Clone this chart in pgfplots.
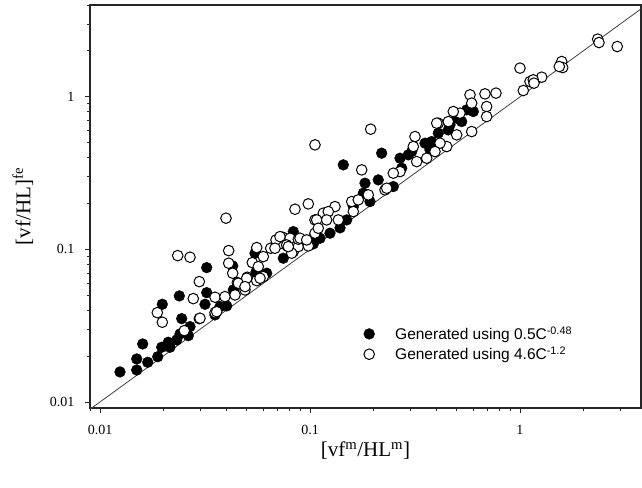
\documentclass[border=0pt]{standalone}
\usepackage{fontspec}
\setmainfont{Liberation Serif}
\newfontfamily\arial{Liberation Sans}
\usepackage{pgfplots}
\pgfplotsset{compat=1.18}
\usepackage{pgfplotstable}

% generated using 0.5C^-0.48
\pgfplotstableread{
x y
0.01245 0.01574
0.01496 0.0162
0.01496 0.01914
0.01597 0.0240
0.01687 0.0182
0.01883 0.0198
0.0198 0.0437
0.01967 0.02284
0.02154 0.02284
0.02114 0.02464
0.02319 0.02551
0.02404 0.02792
0.02386 0.04956
0.02449 0.03518
0.02634 0.02721
0.02683 0.03118
0.03222 0.07598
0.03222 0.05208
0.03162 0.0437
0.03529 0.0372
0.03728 0.04217
0.04012 0.04262
0.04284 0.07795
0.05533 0.0712
0.0622 0.06983
0.07463 0.08755
0.1037 0.1086
0.04313 0.05426
0.05473 0.09443
0.08327 0.1308
0.1441 0.3583
0.2194 0.4273
0.1828 0.2718
0.2114 0.2856
0.1794 0.2336
0.1116 0.1184
0.1245 0.1277
0.1496 0.1561
0.1 0.1154
0.2683 0.3963
0.3529 0.4971
0.4083 0.5781
0.4642 0.6551
0.4995 0.7248
0.1931 0.2058
0.2493 0.2581
0.3728 0.4492
0.3051 0.4378
0.2734 0.3408
0.5575 0.8218
0.5993 0.8009
0.5277 0.6887
0.4556 0.6075
0.3797 0.5092
0.2938 0.4167
0.139 0.1384
0.1608 0.1908
}\blackpts

% generated using 4.6C^-1.2
\pgfplotstableread{
x y
0.01875 0.03851
0.0198 0.03332
0.02344 0.09107
0.02683 0.08889
0.0252 0.02935
0.02781 0.04758
0.02971 0.0615
0.02971 0.03518
0.03529 0.0486
0.03529 0.03851
0.041 0.0982
0.041 0.0812
0.04284 0.06983
0.04506 0.06057
0.04394 0.05031
0.04903 0.05426
0.05027 0.06572
0.05311 0.08194
0.05575 0.1028
0.05673 0.07713
0.05575 0.06243
0.05993 0.06631
0.05993 0.08972
0.065 0.1018
0.07143 0.1086
0.07798 0.1054
0.08327 0.09674
0.08796 0.1043
0.09816 0.1054
0.03981 0.1602
0.08483 0.1834
0.09816 0.1988
0.1056 0.4845
0.1056 0.1561
0.07413 0.1202
0.08035 0.1184
0.08796 0.1166
0.1056 0.1277
0.06887 0.1154
0.03936 0.04904
0.04556 0.06002
0.04995 0.06473
0.05781 0.06473
0.07197 0.1213
0.07746 0.107
0.08185 0.09443
0.03595 0.03909
0.02993 0.0354
0.04903 0.05703
0.1763 0.3321
0.158 0.2058
0.1698 0.2112
0.1895 0.2278
0.1608 0.177
0.2276 0.2456
0.1315 0.1908
0.1157 0.1728
0.1222 0.177
0.1076 0.1561
0.12 0.1561
0.1364 0.1561
0.1095 0.1377
0.08964 0.1184
0.09645 0.1154
0.07885 0.1043
0.06813 0.1018
0.1945 0.614
0.3162 0.5492
0.3105 0.4723
0.4083 0.6723
0.4556 0.6887
0.5179 0.7818
0.4995 0.5634
0.4477 0.4723
0.4159 0.4971
0.3937 0.4378
0.3595 0.3963
0.3222 0.3764
0.2683 0.3237
0.2493 0.316
0.2319 0.2519
1.0 1.543
1.116 1.26
1.269 1.346
1.157 1.293
1.037 1.1
0.5781 1.031
0.6813 1.046
0.7686 1.058
0.6939 0.8638
0.6939 0.7427
0.5888 0.9094
0.5888 0.5922
0.4813 0.8009
0.4012 0.6723
2.344 2.39
2.378 2.27
2.905 2.137
1.58 1.704
1.597 1.556
1.539 1.58
1.166 1.23
}\openpts

\begin{document}
\begin{tikzpicture}
\useasboundingbox (-90pt,-79pt) rectangle (552pt,408pt);
\begin{axis}[
  at={(0pt,0pt)}, anchor=south west,
  scale only axis, width=551pt, height=403pt,
  xmode=log, ymode=log,
  xmin=0.00896, xmax=3.77, ymin=0.00913, ymax=4.0,
  log ticks with fixed point,
  /pgf/number format/assume math mode=true,
  tick pos=left, tick align=outside,
  major tick length=5pt, minor tick length=3pt,
  axis line style={line width=1.2pt, black!85},
  tick style={line width=0.9pt, black!85},
  tick label style={font=\fontsize{14}{16}\selectfont},
  xticklabel style={yshift=-9pt},
  yticklabel style={xshift=-7pt},
  xlabel={[vf\textsuperscript{m}/HL\textsuperscript{m}]},
  ylabel={[vf/HL]\textsuperscript{fe}},
  label style={font=\fontsize{21}{24}\selectfont},
  xlabel style={at={(axis description cs:0.5,-0.106)}, anchor=center},
  ylabel style={at={(axis description cs:-0.122,0.5)}, anchor=center},
  legend style={draw=none, fill=none, at={(axis description cs:0.49,0.212)},
    anchor=north west, font=\arial\fontsize{15.5}{18}\selectfont, row sep=2pt},
  legend cell align=left,
  leg/.style={legend image code/.code={\draw[##1] plot coordinates {(0pt,0pt)}; \path[draw=none, fill=none] (-6pt,-6pt) rectangle (24pt,6pt);}},
]
\addplot[only marks, mark=*, mark size=5.4pt, mark options={fill=black, draw=black}, leg]
  table[x=x, y=y] {\blackpts};
\addlegendentry{Generated using 0.5C\textsuperscript{-0.48}}
\addplot[only marks, mark=*, mark size=5.3pt, mark options={fill=white, draw=black, line width=1pt}, leg]
  table[x=x, y=y] {\openpts};
\addlegendentry{Generated using 4.6C\textsuperscript{-1.2}}
\addplot[black!75, line width=0.8pt, forget plot] coordinates {(0.005,0.005) (5,5)};
\end{axis}
\end{tikzpicture}
\end{document}
